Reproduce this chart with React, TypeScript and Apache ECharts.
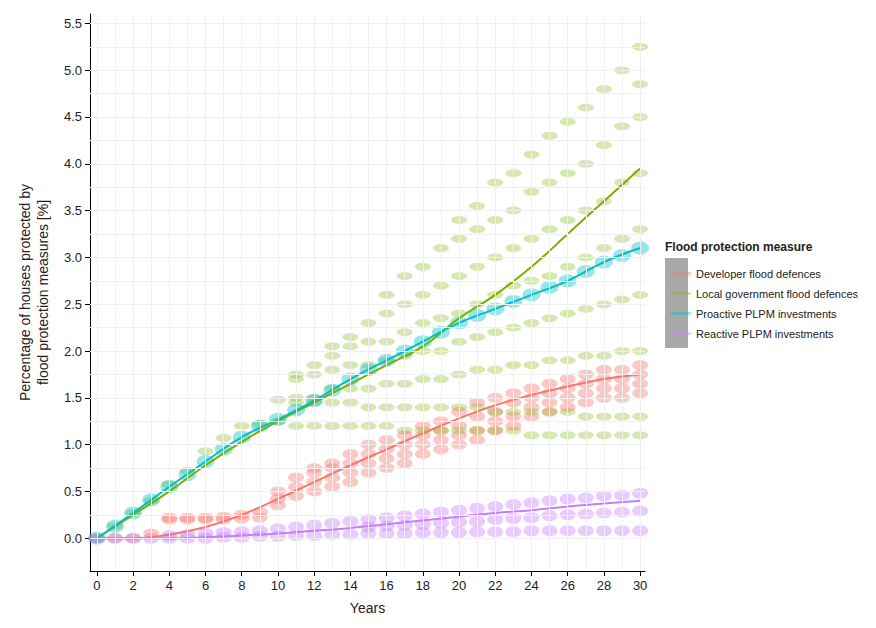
import { useEffect, useRef } from 'react';
import * as echarts from 'echarts';

const lineYears = [0, 2, 4, 6, 8, 10, 12, 14, 16, 18, 20, 22, 24, 26, 28, 30];
const developerLine = [0, 0, 0.04, 0.12, 0.25, 0.42, 0.6, 0.78, 0.95, 1.12, 1.28, 1.42, 1.53, 1.62, 1.7, 1.75];
const localGovLine = [0, 0.25, 0.5, 0.78, 1.03, 1.25, 1.45, 1.65, 1.85, 2.05, 2.35, 2.6, 2.9, 3.25, 3.6, 3.95];
const proactiveLine = [0, 0.27, 0.55, 0.82, 1.08, 1.27, 1.47, 1.7, 1.9, 2.1, 2.3, 2.45, 2.6, 2.75, 2.95, 3.1];
const reactiveLine = [0, 0, 0, 0.01, 0.03, 0.05, 0.08, 0.11, 0.15, 0.19, 0.23, 0.27, 0.3, 0.34, 0.37, 0.4];

// simulated runs, one list of levels per year 0..30
const developerCloud = [
  [0], [0], [0], [0.05], [0.2, 0.22], [0.2, 0.22], [0.2, 0.22], [0.2, 0.23], [0.21, 0.25], [0.22, 0.28],
  [0.35, 0.42, 0.5], [0.45, 0.55, 0.65], [0.5, 0.6, 0.7, 0.75], [0.55, 0.65, 0.75, 0.8], [0.6, 0.7, 0.8, 0.9],
  [0.7, 0.8, 0.9, 1.0], [0.75, 0.85, 0.95, 1.05], [0.8, 0.9, 1.0, 1.1], [0.9, 1.0, 1.1, 1.2], [0.95, 1.05, 1.15, 1.25],
  [1.0, 1.1, 1.2, 1.35], [1.05, 1.15, 1.3, 1.45], [1.15, 1.25, 1.35, 1.5], [1.2, 1.3, 1.45, 1.55], [1.3, 1.4, 1.5, 1.6],
  [1.35, 1.45, 1.55, 1.65], [1.4, 1.5, 1.6, 1.7], [1.45, 1.55, 1.65, 1.75], [1.5, 1.6, 1.7, 1.8], [1.5, 1.6, 1.7, 1.8],
  [1.55, 1.65, 1.75, 1.85],
];
const localGovCloud = [
  [0], [0.13], [0.27], [0.4], [0.58], [0.72], [0.93], [1.07], [1.2], [1.22], [1.25, 1.48],
  [1.2, 1.45, 1.5, 1.7, 1.75], [1.2, 1.45, 1.5, 1.75, 1.85], [1.2, 1.45, 1.6, 1.8, 1.95, 2.05],
  [1.2, 1.45, 1.6, 1.85, 2.05, 2.15], [1.2, 1.4, 1.6, 1.85, 2.1, 2.3], [1.2, 1.4, 1.65, 1.9, 2.1, 2.4, 2.6],
  [1.15, 1.4, 1.65, 1.95, 2.2, 2.5, 2.8], [1.15, 1.4, 1.7, 2.0, 2.3, 2.6, 2.9], [1.15, 1.4, 1.7, 2.0, 2.35, 2.7, 3.1],
  [1.15, 1.4, 1.75, 2.1, 2.4, 2.8, 3.2, 3.4], [1.15, 1.4, 1.8, 2.15, 2.5, 2.9, 3.3, 3.55],
  [1.15, 1.35, 1.8, 2.2, 2.6, 3.0, 3.4, 3.8], [1.15, 1.35, 1.85, 2.25, 2.7, 3.1, 3.5, 3.9],
  [1.1, 1.35, 1.85, 2.3, 2.75, 3.2, 3.7, 4.1], [1.1, 1.35, 1.9, 2.35, 2.8, 3.3, 3.8, 4.3],
  [1.1, 1.35, 1.9, 2.4, 2.9, 3.4, 3.9, 4.45], [1.1, 1.3, 1.95, 2.45, 3.0, 3.5, 4.0, 4.6],
  [1.1, 1.3, 1.95, 2.5, 3.1, 3.6, 4.2, 4.8], [1.1, 1.3, 2.0, 2.55, 3.2, 3.8, 4.4, 5.0],
  [1.1, 1.3, 2.0, 2.6, 3.3, 3.9, 4.5, 4.85, 5.25],
];
const proactiveCloud = [
  [0], [0.13], [0.27], [0.41], [0.55], [0.68], [0.82], [0.95], [1.08], [1.2], [1.27], [1.37], [1.47], [1.58],
  [1.7], [1.8], [1.9], [2.0], [2.1], [2.2], [2.3], [2.38], [2.45], [2.53], [2.6], [2.68], [2.75], [2.85],
  [2.95], [3.02], [3.1],
];
const reactiveCloud = [
  [0], [0], [0], [0], [0, 0.03], [0, 0.04], [0, 0.05], [0.01, 0.06], [0.01, 0.07], [0.02, 0.08], [0.02, 0.1],
  [0.03, 0.12], [0.03, 0.14], [0.04, 0.16], [0.04, 0.18], [0.05, 0.12, 0.2], [0.05, 0.13, 0.22], [0.05, 0.14, 0.24],
  [0.06, 0.15, 0.26], [0.06, 0.16, 0.28], [0.06, 0.17, 0.3], [0.07, 0.18, 0.32], [0.07, 0.2, 0.34], [0.07, 0.21, 0.36],
  [0.08, 0.22, 0.38], [0.08, 0.24, 0.4], [0.08, 0.25, 0.42], [0.08, 0.26, 0.43], [0.08, 0.27, 0.45],
  [0.08, 0.28, 0.46], [0.08, 0.29, 0.48],
];

const xTicks = [0, 2, 4, 6, 8, 10, 12, 14, 16, 18, 20, 22, 24, 26, 28, 30];
const yTicks = [0, 0.5, 1, 1.5, 2, 2.5, 3, 3.5, 4, 4.5, 5, 5.5];

const names = [
  'Developer flood defences',
  'Local government flood defences',
  'Proactive PLPM investments',
  'Reactive PLPM investments',
];
const colors = ['#F8766D', '#7CAE00', '#00BFC4', '#C77CFF'];

const cloudPoints = (cloud: number[][]) =>
  cloud.flatMap((levels, year) => levels.map((v) => [year, v]));
const linePoints = (vals: number[]) => lineYears.map((x, i) => [x, vals[i]]);

const App = () => {
  const ref = useRef<HTMLDivElement>(null);

  useEffect(() => {
    if (!ref.current) return;
    const chart = echarts.init(ref.current, null as any, { renderer: 'svg' });

    const clouds = [developerCloud, localGovCloud, proactiveCloud, reactiveCloud];
    const lines = [developerLine, localGovLine, proactiveLine, reactiveLine];
    const sizes: [number, number][] = [[16, 10], [16, 8], [18, 13], [16, 11]];

    const gridLines = [
      ...xTicks.map((x) => ({ xAxis: x })),
      ...xTicks.slice(0, -1).map((x) => ({ xAxis: x + 1 })),
      ...yTicks.map((y) => ({ yAxis: y })),
      ...yTicks.map((y) => ({ yAxis: y + 0.25 })),
    ];

    chart.setOption({
      animation: false,
      backgroundColor: '#fff',
      textStyle: { fontFamily: 'Liberation Sans, Arial, sans-serif' },
      grid: { left: 75, right: 223, top: 6, bottom: 40 },
      xAxis: {
        type: 'value', min: -0.38, max: 30.27,
        name: 'Years', nameLocation: 'middle', nameGap: 30,
        nameTextStyle: { fontSize: 14, color: '#222' },
        axisLine: { onZero: false, lineStyle: { color: '#000' } },
        axisTick: { customValues: xTicks, lineStyle: { color: '#000' } },
        axisLabel: { customValues: xTicks, fontSize: 13, color: '#222' },
        splitLine: { show: false },
      },
      yAxis: {
        type: 'value', min: -0.35, max: 5.6,
        name: 'Percentage of houses protected by\nflood protection measures [%]',
        nameLocation: 'middle', nameGap: 38,
        nameTextStyle: { fontSize: 14, color: '#222', lineHeight: 18 },
        axisLine: { show: true, onZero: false, lineStyle: { color: '#000' } },
        axisTick: { show: true, customValues: yTicks, lineStyle: { color: '#000' } },
        axisLabel: { customValues: yTicks, fontSize: 13, color: '#222', formatter: (v: number) => v.toFixed(1) },
        splitLine: { show: false },
      },
      legend: {
        orient: 'vertical', left: 658, top: 255, itemGap: 9,
        itemWidth: 20, itemHeight: 3, icon: 'rect',
        data: names,
        textStyle: { fontSize: 11, color: '#222' },
      },
      graphic: [
        { type: 'text', left: 657, top: 233, style: { text: 'Flood protection measure', fontSize: 12, fontWeight: 'bold', fill: '#222' } },
        { type: 'rect', left: 657, top: 250, shape: { width: 23, height: 90 }, style: { fill: '#a9a9a9' }, z: -1 },
      ],
      series: [
        {
          type: 'line', data: [], silent: true,
          markLine: {
            symbol: 'none', silent: true, label: { show: false },
            lineStyle: { color: '#f0f0f0', width: 1, type: 'solid' },
            data: gridLines,
          },
        },
        ...clouds.map((c, i) => ({
          type: 'scatter', name: names[i], data: cloudPoints(c),
          symbol: 'circle', symbolSize: sizes[i],
          itemStyle: { color: colors[i], opacity: i === 1 ? 0.3 : 0.4 },
        })),
        ...lines.map((l, i) => ({
          type: 'line', name: names[i], data: linePoints(l),
          smooth: true, showSymbol: false,
          lineStyle: { color: colors[i], width: 2 },
          itemStyle: { color: colors[i] },
        })),
      ],
    });

    return () => chart.dispose();
  }, []);

  return <div ref={ref} style={{ width: 860, height: 612 }} />;
};

export default App;
